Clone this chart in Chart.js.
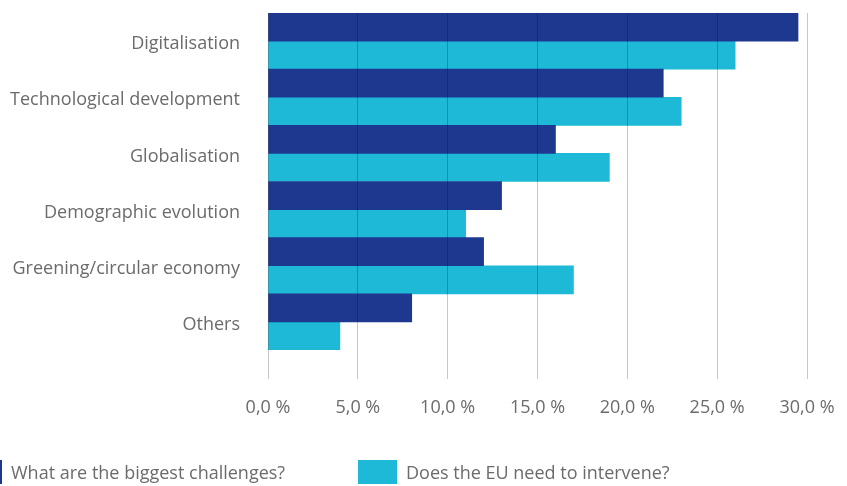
<!DOCTYPE html>
<html>
<head>
<meta charset="utf-8">
<script src="https://cdn.jsdelivr.net/npm/chart.js@4.4.1/dist/chart.umd.min.js"></script>
<style>
  body { margin: 0; background: #fff; }
  .wrap { position: relative; width: 847px; height: 486px; overflow: hidden; }
  canvas { display: block; }
  .legend { position: absolute; left: 0; top: 460px; height: 24px; width: 847px;
    font-family: "Open Sans", sans-serif; font-size: 18px; color: #6b6b6b; }
  .legend .item { position: absolute; top: 0; height: 24px; line-height: 24px; white-space: nowrap; }
  .legend .box { position: absolute; top: 0; width: 39px; height: 24px; }
</style>
</head>
<body>
<div class="wrap">
  <canvas id="challengeChart" width="847" height="486"></canvas>
  <div class="legend" id="legend"></div>
</div>
<script>
const categories = [
    'Digitalisation', 'Technological development', 'Globalisation',
    'Demographic evolution', 'Greening/circular economy', 'Others'
  ];
const challenges = [29.5, 22, 16, 13, 12, 8];
const intervene = [26, 23, 19, 11, 17, 4];
const xTicks = [0, 5, 10, 15, 20, 25, 30];

const navy = '#1e388f';
const cyan = '#1eb9d7';

window.addEventListener('DOMContentLoaded', () => {
    const ctx = document.getElementById('challengeChart').getContext('2d');

    const chart = new Chart(ctx, {
      type: 'bar',
      data: {
        labels: categories,
        datasets: [{
          label: 'What are the biggest challenges?',
          data: challenges,
          backgroundColor: navy,
          categoryPercentage: 1,
          barPercentage: 1
        }, {
          label: 'Does the EU need to intervene?',
          data: intervene,
          backgroundColor: cyan,
          categoryPercentage: 1,
          barPercentage: 1
        }]
      },
      options: {
        indexAxis: 'y',
        responsive: false,
        animation: false,
        layout: { padding: { top: 13, right: 40, bottom: 69, left: 0 } },
        plugins: { legend: { display: false }, tooltip: { enabled: false } },
        scales: {
          x: {
            min: 0,
            max: 30,
            afterBuildTicks: (scale) => { scale.ticks = xTicks.map(v => ({ value: v })); },
            afterFit: (scale) => {
              scale.height = 67;
              scale.paddingLeft = 0;
              scale.paddingRight = 0;
            },
            grid: { color: 'rgba(0,0,0,0.22)', lineWidth: 1, tickLength: 29, z: 1 },
            border: { display: false },
            ticks: {
              padding: 18,
              color: '#6b6b6b',
              font: { family: 'Open Sans', size: 18 },
              callback: (v) => v.toFixed(1).replace('.', ',') + ' %'
            }
          },
          y: {
            afterFit: (scale) => {
              scale.width = 268;
              scale.paddingTop = 0;
              scale.paddingBottom = 0;
            },
            grid: { display: false, drawTicks: true, tickLength: 28 },
            border: { display: false },
            ticks: {
              padding: 0,
              labelOffset: 3,
              autoSkip: false,
              color: '#6b6b6b',
              font: { family: 'Open Sans', size: 18 }
            }
          }
        }
      }
    });

    // legend built from the chart datasets
    const legendPos = [{ box: -37, text: 11 }, { box: 358, text: 406 }];
    const legend = document.getElementById('legend');
    chart.data.datasets.forEach((ds, i) => {
      const box = document.createElement('div');
      box.className = 'box';
      box.style.left = legendPos[i].box + 'px';
      box.style.background = ds.backgroundColor;
      legend.appendChild(box);
      const item = document.createElement('div');
      item.className = 'item';
      item.style.left = legendPos[i].text + 'px';
      item.textContent = ds.label;
      legend.appendChild(item);
    });
});
</script>
</body>
</html>
